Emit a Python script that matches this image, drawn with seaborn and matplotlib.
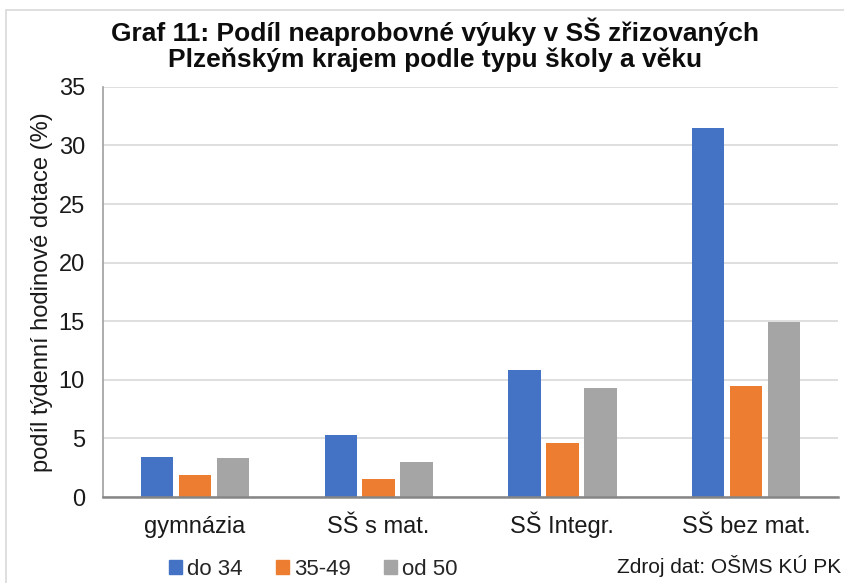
import matplotlib
matplotlib.use("Agg")
import matplotlib.pyplot as plt
import seaborn as sns
import pandas as pd
from matplotlib.patches import Rectangle

categories = ["gymnázia", "SŠ s mat.", "SŠ Integr.", "SŠ bez mat."]
series_names = ["do 34", "35-49", "od 50"]
do34 = [3.45, 5.25, 10.85, 31.5]
s3549 = [1.9, 1.5, 4.6, 9.45]
od50 = [3.3, 2.95, 9.3, 14.95]
yticks = [0, 5, 10, 15, 20, 25, 30, 35]
colors = ["#4472C4", "#ED7D31", "#A5A5A5"]

rows = []
for name, vals in zip(series_names, [do34, s3549, od50]):
    for c, v in zip(categories, vals):
        rows.append({"kategorie": c, "serie": name, "hodnota": v})
df = pd.DataFrame(rows)

sns.set_theme(style="white")
plt.rcParams["font.family"] = ["Liberation Sans", "DejaVu Sans"]

fig = plt.figure(figsize=(8.44, 5.83), dpi=100)
ax = fig.add_axes([0.122, 0.1475, 0.871, 0.7035])

sns.barplot(data=df, x="kategorie", y="hodnota", hue="serie",
            order=categories, hue_order=series_names, palette=colors,
            width=0.62, gap=0.15, saturation=1, ax=ax, legend=False,
            edgecolor="none", linewidth=0)

ax.set_ylim(0, 35)
ax.set_xlim(-0.5, 3.5)
ax.set_yticks(yticks)
ax.set_yticklabels([str(t) for t in yticks], fontsize=17, color="#1a1a1a")
ax.tick_params(axis="x", labelsize=17, colors="#1a1a1a", length=0, pad=26)
ax.tick_params(axis="y", length=0, pad=13)
ax.set_xticks(range(len(categories)))
ax.set_xticklabels(categories, va="baseline", fontsize=17, color="#1a1a1a")
ax.set_xlabel("")
ax.set_ylabel("podíl týdenní hodinové dotace (%)", fontsize=17, color="#1a1a1a", labelpad=4)
ax.yaxis.grid(True, color="#D9D9D9", linewidth=1.2)
ax.set_axisbelow(True)
for s in ["top", "right"]:
    ax.spines[s].set_visible(False)
ax.spines["left"].set_color("#A0A0A0")
ax.spines["left"].set_linewidth(1.2)
ax.spines["bottom"].set_color("#868686")
ax.spines["bottom"].set_linewidth(1.8)

fig.text(0.515, 0.923, "Graf 11: Podíl neaprobovné výuky v SŠ zřizovaných\nPlzeňským krajem podle typu školy a věku",
         ha="center", va="center", fontsize=19, fontweight="bold", color="#0d0d0d",
         linespacing=1.1)

handles = [Rectangle((0, 0), 1, 1, color=c) for c in colors]
fig.legend(handles, series_names, loc="center left", bbox_to_anchor=(0.2, 0.024),
           ncol=3, frameon=False, fontsize=16, handlelength=0.6, handleheight=0.6,
           handletextpad=0.22, columnspacing=1.5, borderaxespad=0, borderpad=0)

fig.text(0.731, 0.029, "Zdroj dat: OŠMS KÚ PK", ha="left", va="center", fontsize=15,
         color="#1a1a1a")

border = Rectangle((0.007, -0.1), 1.1, 1.083, transform=fig.transFigure, fill=False,
                   edgecolor="#D9D9D9", linewidth=1.2, clip_on=False)
fig.patches.append(border)

fig.savefig("out.png", dpi=100)
